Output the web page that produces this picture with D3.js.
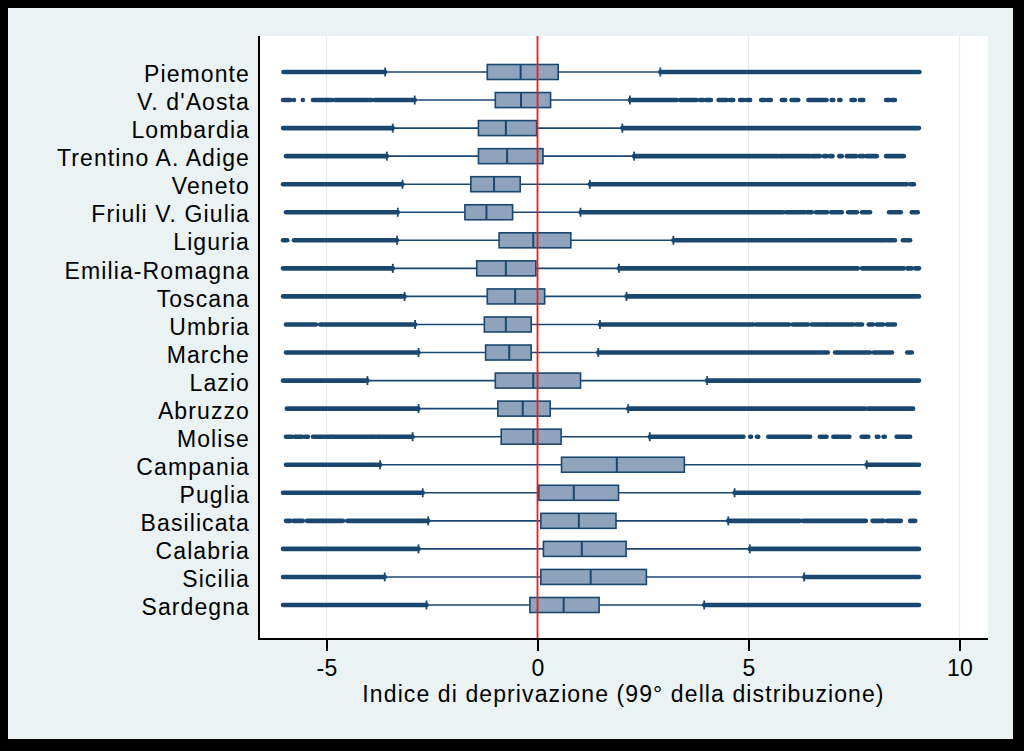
<!DOCTYPE html>
<html>
<head>
<meta charset="utf-8">
<script src="https://cdn.jsdelivr.net/npm/d3@7"></script>
<style>
html,body{margin:0;padding:0;background:#000;}
svg{display:block;}
text{font-family:"Liberation Sans",Arial,sans-serif;}
</style>
</head>
<body>
<svg id="chart" width="1024" height="751"></svg>
<script>
const regions = ["Piemonte","V. d'Aosta","Lombardia","Trentino A. Adige","Veneto","Friuli V. Giulia","Liguria","Emilia-Romagna","Toscana","Umbria","Marche","Lazio","Abruzzo","Molise","Campania","Puglia","Basilicata","Calabria","Sicilia","Sardegna"];
const whiskLo = [-3.61,-2.91,-3.43,-3.57,-3.20,-3.31,-3.33,-3.43,-3.15,-2.90,-2.82,-4.03,-2.82,-2.96,-3.73,-2.72,-2.59,-2.82,-3.62,-2.63];
const q1      = [-1.19,-1.00,-1.40,-1.40,-1.58,-1.72,-0.91,-1.44,-1.19,-1.26,-1.23,-1.00,-0.94,-0.86, 0.57, 0.03, 0.08, 0.14, 0.08,-0.18];
const median  = [-0.40,-0.39,-0.75,-0.72,-1.03,-1.21,-0.10,-0.75,-0.53,-0.75,-0.67,-0.10,-0.35,-0.10, 1.88, 0.86, 0.98, 1.05, 1.26, 0.62];
const q3      = [ 0.49, 0.31,-0.02, 0.13,-0.41,-0.59, 0.79,-0.04, 0.17,-0.15,-0.15, 1.02, 0.30, 0.56, 3.48, 1.92, 1.86, 2.10, 2.58, 1.46];
const whiskHi = [ 2.91, 2.19, 2.01, 2.29, 1.24, 1.02, 3.22, 1.93, 2.11, 1.48, 1.44, 4.02, 2.15, 2.66, 7.80, 4.67, 4.52, 5.03, 6.32, 3.95];
// outlying observations, as runs of adjacent markers [from, to]
const outliers = [
  [[-6.02,-3.61],[2.91,9.05]],
  [[-6.03,-5.86],[-5.77,-5.77],[-5.56,-5.56],[-5.32,-4.87],[-4.80,-3.93],[-3.86,-2.91],[2.19,3.30],[3.38,3.77],[3.85,3.93],[3.99,4.11],[4.29,4.48],[4.56,4.64],[4.80,4.88],[4.96,5.04],[5.30,5.39],[5.45,5.53],[5.79,5.87],[6.02,6.18],[6.42,6.85],[6.97,7.01],[7.15,7.18],[7.44,7.52],[7.64,7.72],[8.26,8.34],[8.39,8.47]],
  [[-6.03,-3.43],[2.01,9.04]],
  [[-5.96,-3.57],[2.29,5.70],[5.75,6.46],[6.51,6.69],[6.79,6.85],[6.93,6.99],[7.15,7.21],[7.33,7.55],[7.64,7.72],[7.80,8.04],[8.26,8.68]],
  [[-6.03,-3.20],[1.24,8.75],[8.83,8.92]],
  [[-5.96,-3.31],[1.02,5.82],[5.89,6.34],[6.39,6.50],[6.60,6.86],[6.96,7.21],[7.36,7.57],[7.69,7.88],[8.33,8.61],[8.87,9.01]],
  [[-6.03,-5.93],[-5.77,-3.33],[3.22,6.32],[6.36,8.23],[8.28,8.47],[8.66,8.83]],
  [[-6.03,-3.43],[1.93,7.59],[7.69,8.68],[8.76,8.87],[8.95,9.04]],
  [[-6.03,-3.15],[2.11,9.04]],
  [[-5.96,-5.25],[-5.15,-2.90],[1.48,5.11],[5.18,5.63],[5.67,5.96],[6.05,6.41],[6.50,6.86],[6.88,7.48],[7.55,7.69],[7.85,7.95],[8.04,8.19],[8.28,8.47]],
  [[-5.96,-2.82],[1.44,6.60],[6.65,6.88],[7.05,7.48],[7.52,7.88],[7.97,8.40],[8.76,8.87]],
  [[-6.03,-4.03],[4.02,9.04]],
  [[-5.94,-2.82],[2.15,7.76],[7.83,8.68],[8.71,8.90]],
  [[-5.96,-5.82],[-5.75,-5.58],[-5.51,-5.44],[-5.32,-5.04],[-4.99,-4.87],[-4.85,-3.85],[-3.80,-2.96],[2.66,4.48],[4.52,4.88],[5.04,5.06],[5.20,5.23],[5.47,6.46],[6.69,6.85],[7.01,7.39],[7.68,7.84],[8.04,8.08],[8.20,8.23],[8.51,8.83]],
  [[-5.96,-3.73],[7.80,9.04]],
  [[-6.03,-2.72],[4.67,9.04]],
  [[-5.96,-5.86],[-5.79,-5.56],[-5.46,-4.61],[-4.51,-2.59],[4.52,6.22],[6.29,7.78],[7.94,8.20],[8.28,8.61],[8.83,8.95]],
  [[-6.03,-2.82],[5.03,9.04]],
  [[-6.03,-3.62],[6.32,9.04]],
  [[-6.03,-2.63],[3.95,9.04]]
];
const xTicks = [-5,0,5,10];
const xTitle = "Indice di deprivazione (99° della distribuzione)";

const W = 1024, H = 751;
const plot = {left:259, right:988, top:36, bottom:639};
const navy = "#1a476f", boxFill = "#8fa4bc";
const fontFam = "'Liberation Sans',Arial,sans-serif";

const svg = d3.select("#chart");
svg.append("rect").attr("width",W).attr("height",H).attr("fill","#000");
svg.append("rect").attr("x",8).attr("y",8).attr("width",1005).attr("height",731).attr("fill","#eaf2f3");
svg.append("rect").attr("x",plot.left).attr("y",plot.top)
   .attr("width",plot.right-plot.left).attr("height",plot.bottom-plot.top).attr("fill","#fff");

const x = d3.scaleLinear().domain([-5,10]).range([326.5,959.5]);
const y = d3.scalePoint().domain(regions).range([72,605]);

// gridlines
svg.append("g").selectAll("line").data(xTicks.filter(d=>d!==0)).join("line")
  .attr("x1",d=>x(d)).attr("x2",d=>x(d)).attr("y1",plot.top).attr("y2",plot.bottom)
  .attr("stroke","#e4eced").attr("stroke-width",1.2);

const rows = regions.map((r,i)=>({r, lo:whiskLo[i], q1:q1[i], med:median[i], q3:q3[i], hi:whiskHi[i], out:outliers[i]}));
const g = svg.append("g");
const bh = 7.5;

// outliers
g.selectAll("g.out").data(rows).join("g").attr("class","out")
  .each(function(d){
    d3.select(this).selectAll("line").data(d.out).join("line")
      .attr("x1",s=>x(s[0])).attr("x2",s=>x(s[1]))
      .attr("y1",y(d.r)).attr("y2",y(d.r))
      .attr("stroke",navy).attr("stroke-width",4.6).attr("stroke-linecap","round");
  });

// whiskers
g.selectAll("line.wl").data(rows).join("line").attr("class","wl")
  .attr("x1",d=>x(d.lo)).attr("x2",d=>x(d.q1)).attr("y1",d=>y(d.r)).attr("y2",d=>y(d.r))
  .attr("stroke",navy).attr("stroke-width",1.6);
g.selectAll("line.wh").data(rows).join("line").attr("class","wh")
  .attr("x1",d=>x(d.q3)).attr("x2",d=>x(d.hi)).attr("y1",d=>y(d.r)).attr("y2",d=>y(d.r))
  .attr("stroke",navy).attr("stroke-width",1.6);
// caps
["lo","hi"].forEach(k=>{
  g.selectAll("line.cap"+k).data(rows).join("line").attr("class","cap"+k)
    .attr("x1",d=>x(d[k])).attr("x2",d=>x(d[k]))
    .attr("y1",d=>y(d.r)-4.5).attr("y2",d=>y(d.r)+4.5)
    .attr("stroke",navy).attr("stroke-width",1.8);
});
// boxes
g.selectAll("rect.box").data(rows).join("rect").attr("class","box")
  .attr("x",d=>x(d.q1)).attr("width",d=>x(d.q3)-x(d.q1))
  .attr("y",d=>y(d.r)-bh).attr("height",bh*2)
  .attr("fill",boxFill).attr("stroke",navy).attr("stroke-width",1.6);
g.selectAll("line.med").data(rows).join("line").attr("class","med")
  .attr("x1",d=>x(d.med)).attr("x2",d=>x(d.med))
  .attr("y1",d=>y(d.r)-bh).attr("y2",d=>y(d.r)+bh)
  .attr("stroke",navy).attr("stroke-width",2);

// reference line at 0
svg.append("line").attr("x1",x(0)).attr("x2",x(0)).attr("y1",plot.top).attr("y2",plot.bottom)
  .attr("stroke","#ee1c1c").attr("stroke-width",1.8);

// axes lines
svg.append("line").attr("x1",plot.left).attr("x2",plot.left).attr("y1",plot.top).attr("y2",plot.bottom+1)
  .attr("stroke","#000").attr("stroke-width",2);
svg.append("line").attr("x1",plot.left-1).attr("x2",plot.right).attr("y1",plot.bottom).attr("y2",plot.bottom)
  .attr("stroke","#000").attr("stroke-width",2);

// x axis
const xa = svg.append("g").attr("transform",`translate(0,${plot.bottom})`)
  .call(d3.axisBottom(x).tickValues(xTicks).tickSize(12).tickPadding(9).tickFormat(d=>String(d)));
xa.select(".domain").remove();
xa.selectAll(".tick line").attr("stroke","#000").attr("stroke-width",2);
xa.selectAll(".tick text").attr("fill","#000").style("font-size","23px")
  .style("font-family",fontFam).style("letter-spacing","0.3px");

// y labels
const ya = svg.append("g").attr("transform",`translate(${plot.left-9},0)`)
  .call(d3.axisLeft(y).tickSize(0).tickPadding(0));
ya.select(".domain").remove();
ya.selectAll(".tick text").attr("fill","#000").style("font-size","23px")
  .style("font-family",fontFam).style("letter-spacing","1.1px")
  .attr("dy","0.42em");

svg.append("text").attr("x",(plot.left+plot.right)/2).attr("y",702)
  .attr("text-anchor","middle").style("font-size","23px").style("letter-spacing","1.1px")
  .style("font-family",fontFam).attr("fill","#000").text(xTitle);
</script>
</body>
</html>
